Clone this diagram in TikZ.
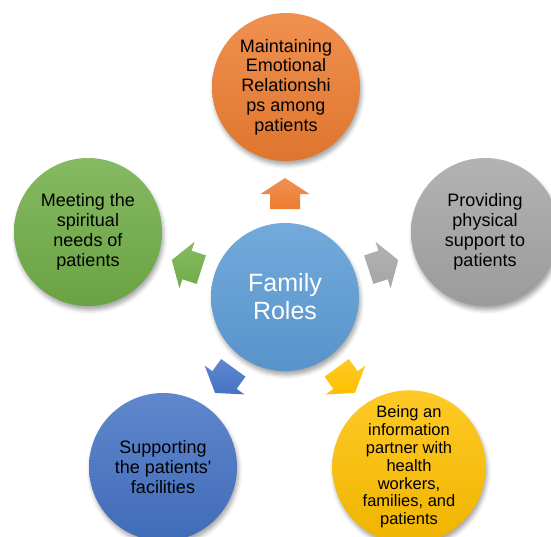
\documentclass[tikz,border=0pt]{standalone}
\usepackage{fontspec}
\setmainfont{Liberation Sans}
\usetikzlibrary{shadows.blur}
\definecolor{cOrange}{HTML}{ED7D31}
\definecolor{cGray}{HTML}{A5A5A5}
\definecolor{cYellow}{HTML}{FFC000}
\definecolor{cBlue}{HTML}{4472C4}
\definecolor{cGreen}{HTML}{70AD47}
\definecolor{cCenter}{HTML}{5B9BD5}
\tikzset{
  softshadow/.style={blur shadow={shadow xshift=1.5pt, shadow yshift=-4pt, shadow blur radius=4pt, shadow opacity=35}},
  outer/.style={circle, minimum size=148pt, inner sep=0pt, align=center,
    font=\fontsize{18}{19.8}\selectfont, text=black, softshadow,
    top color=#1!85!white, bottom color=#1!94!black},
  hub/.style={circle, minimum size=148pt, inner sep=0pt, align=center,
    font=\fontsize{25}{28}\selectfont, text=white, softshadow,
    top color=#1!85!white, bottom color=#1!95!black},
  blockarrow/.pic={\path[pic actions] (16,0)--(0,-24.5)--(0,-15)--(-15,-15)--(-15,15)--(0,15)--(0,24.5)--cycle;},
  arr/.style={softshadow, top color=#1!85!white, bottom color=#1}
}
\begin{document}
\begin{tikzpicture}[x=1pt,y=-1pt]
\useasboundingbox (0,0) rectangle (551,536);
% arrows
\pic[rotate=90, arr=cOrange] at (285,194) {blockarrow};
\pic[rotate=18, arr=cGray] at (383,265) {blockarrow};
\pic[rotate=-54, arr=cYellow] at (345.5,380) {blockarrow};
\pic[rotate=-126, arr=cBlue] at (224.5,380) {blockarrow};
\pic[rotate=162, arr=cGreen] at (187,265) {blockarrow};
% circles
\node[hub=cCenter] (center) at (285,297) {Family\\Roles};
\node[outer=cOrange] (top) at (286,87) {Maintaining\\Emotional\\Relationshi\\ps among\\patients};
\node[outer=cGray] (right) at (485,232) {Providing\\physical\\support to\\patients};
\node[outer=cYellow, font=\fontsize{16.5}{17.8}\selectfont] (bright) at (409,467) {Being an\\information\\partner with\\health\\workers,\\families, and\\patients};
\node[outer=cBlue] (bleft) at (163,467) {Supporting\\the patients\textquotesingle\\facilities};
\node[outer=cGreen] (left) at (88,232) {Meeting the\\spiritual\\needs of\\patients};
\end{tikzpicture}
\end{document}
